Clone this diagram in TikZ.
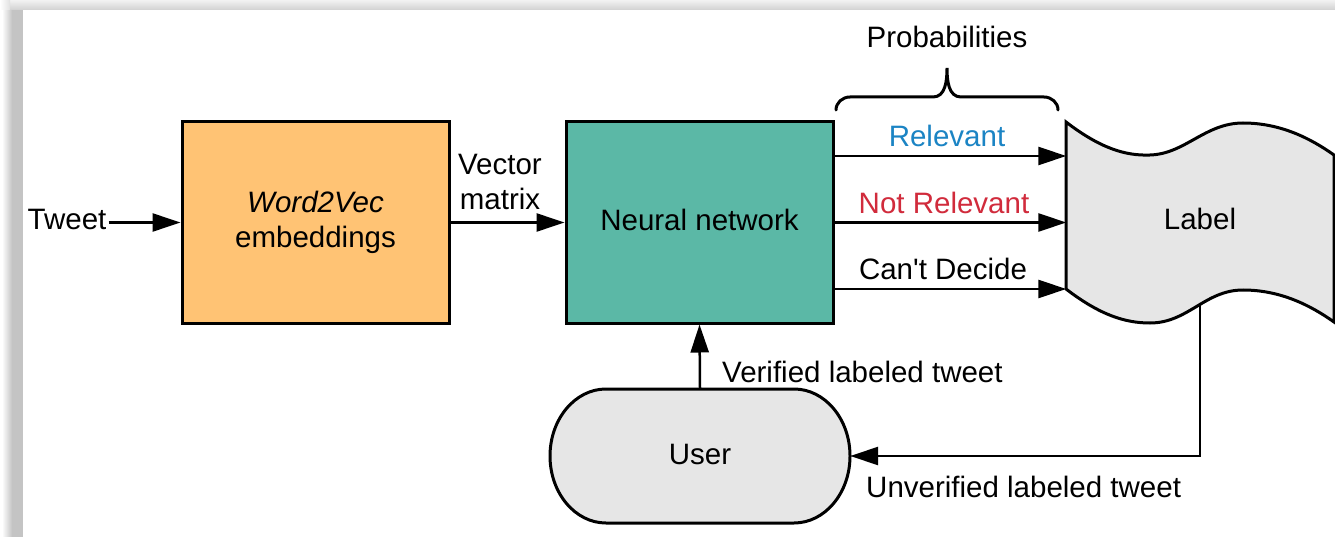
\documentclass[tikz,border=0pt]{standalone}
\usepackage{fontspec}
\setmainfont{Liberation Sans}[Ligatures=TeXOff]
\usetikzlibrary{arrows.meta,calc}
\definecolor{w2vfill}{HTML}{FFC374}
\definecolor{nnfill}{HTML}{5BB8A6}
\definecolor{shapegray}{HTML}{E6E6E6}
\definecolor{relblue}{HTML}{1B84C4}
\definecolor{notred}{HTML}{D12B3C}
\begin{document}
\begin{tikzpicture}[x=1pt,y=-1pt,
  every node/.style={font=\fontsize{29.5}{35}\selectfont, inner sep=2pt},
  procbox/.style={draw=black, line width=3pt, minimum width=267pt,
    minimum height=201pt, align=center},
  textonly/.style={minimum width=267pt, minimum height=201pt, inner sep=0pt},
  outline/.style={draw=black, fill=shapegray, line width=3pt, line join=miter},
  arr/.style={line width=2.5pt, -{Triangle[length=28pt,width=18pt]}},
  brace/.style={line width=3pt, line cap=round}]
\useasboundingbox (0,0) rectangle (1335,537);

% page frame with its drop shadow
\fill[white] (0,0) rectangle (1335,537);
\shade[left color=white, right color=black!23] (2,10) rectangle (12,537);
\fill[black!23] (12,10) rectangle (23,537);
\shade[top color=black!5, bottom color=black!18] (10,0) rectangle (1335,10);
\shade[left color=white, right color=black!12] (0,0) rectangle (10,10);
\fill[white] (23,10) rectangle (1335,537);

% processing boxes
\node[procbox, fill=w2vfill] (w2v) at (315.5,222.5) {\textit{Word2Vec}\\embeddings};
\node[procbox, fill=nnfill] (nn) at (699.5,222.5) {};
\node (nntext) at (nn.center) [yshift=3pt] {Neural network};

% input
\node (tweet) at (67,219) {Tweet};
\draw[arr] (tweet.east |- w2v.west) -- (w2v.west);
\draw[arr] (w2v.east) -- (nn.west);
\node[align=center] (vm) at (500,182) {Vector\\matrix};

% user (terminator shape)
\draw[outline] (606,389) -- (794,389)
  arc[start angle=-90, end angle=90, x radius=56, y radius=67]
  -- (606,523)
  arc[start angle=90, end angle=270, x radius=56, y radius=67] -- cycle;
\node[minimum width=300pt, minimum height=134pt, inner sep=0pt] (user) at (700,456) {};
\node (usertext) at (user.center) [yshift=2pt] {User};

% verified tweets go back into training
\draw[arr] (user.north) -- (nn.south);
\node[anchor=west] (ver) at (720,372) {Verified labeled tweet};

% feedback from the label store back to the user
\coordinate (fb) at (1200,295);
\draw[arr] (fb) |- (user.east);
\node[anchor=west] (unv) at (864,487) {Unverified labeled tweet};

% label store (tape shape)
\draw[outline] (1066,122)
  .. controls (1100,148) and (1125,156) .. (1150,155)
  .. controls (1185,154) and (1205,123) .. (1243,123)
  .. controls (1280,123) and (1310,138) .. (1334,155)
  -- (1334,322)
  .. controls (1310,305) and (1280,290) .. (1243,290)
  .. controls (1205,290) and (1188,323) .. (1150,323)
  .. controls (1125,323) and (1100,315) .. (1066,289) -- cycle;
\node[textonly] (lab) at (1200,219) {Label};

% class probabilities
\draw[arr] ([yshift=66.5pt]nn.east) -- ([yshift=66.5pt]nn.east -| lab.west);
\draw[arr] (nn.east) -- (nn.east -| lab.west);
\draw[arr] ([yshift=-66.5pt]nn.east) -- ([yshift=-66.5pt]nn.east -| lab.west);
\node[text=relblue] (rel) at (947,136) {Relevant};
\node[text=notred] (notrel) at (944,202.5) {Not Relevant};
\node (cant) at (943,268.5) {Can't Decide};

% brace grouping the three outputs
\coordinate (bl) at (836,110);
\coordinate (br) at (1058,110);
\coordinate (btip) at (947,68);
\draw[brace] (bl) to[out=90,in=180] (850,97) -- (933,97)
  to[out=0,in=-90] (btip) to[out=-90,in=180] (961,97) -- (1044,97)
  to[out=0,in=90] (br);
\node (prob) at (947,37) {Probabilities};
\end{tikzpicture}
\end{document}
